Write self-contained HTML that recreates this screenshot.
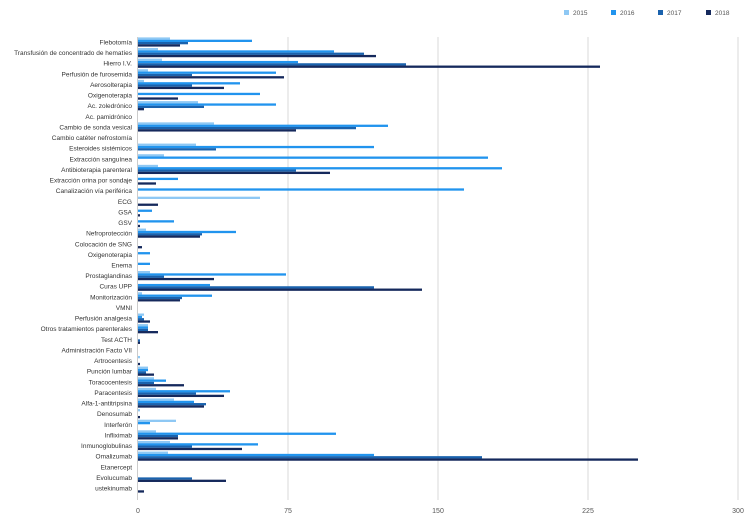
<!DOCTYPE html>
<html><head><meta charset="utf-8"><style>
body{margin:0;background:#fff;}
svg{display:block;font-family:"Liberation Sans",sans-serif;}
</style></head><body>
<svg id="chart" width="750" height="527"></svg>
<script>
const categories=["Flebotomía","Transfusión de concentrado de hematíes","Hierro I.V.","Perfusión de furosemida","Aerosolterapia","Oxigenoterapia","Ac. zoledrónico","Ac. pamidrónico","Cambio de sonda vesical","Cambio catéter nefrostomía","Esteroides sistémicos","Extracción sanguínea","Antibioterapia parenteral","Extracción orina por sondaje","Canalización vía periférica","ECG","GSA","GSV","Nefroprotección","Colocación de SNG","Oxigenoterapia","Enema","Prostaglandinas","Curas UPP","Monitorización","VMNI","Perfusión analgesia","Otros tratamientos parenterales","Test ACTH","Administración Facto VII","Artrocentesis","Punción lumbar","Toracocentesis","Paracentesis","Alfa-1-antitripsina","Denosumab","Interferón","Infliximab","Inmunoglobulinas","Omalizumab","Etanercept","Evolucumab","ustekinumab"];
const s2015=[16,10,12,5,3,0,30,0,38,0,29,13,10,0,0,61,0,0,4,0,0,0,6,0,2,0,3,5,0,0,1,5,8,9,18,1,19,9,16,15,0,0,0];
const s2016=[57,98,80,69,51,61,69,0,125,0,118,175,182,20,163,0,7,18,49,0,6,6,74,36,37,0,2,5,0,0,0,5,14,46,28,0,6,99,60,118,0,0,0];
const s2017=[25,113,134,27,27,0,33,0,109,0,39,0,79,0,0,0,0,0,32,0,0,0,13,118,22,0,3,5,1,0,0,4,8,29,34,0,0,20,27,172,0,27,0];
const s2018=[21,119,231,73,43,20,3,0,79,0,0,0,96,9,0,10,1,1,31,2,0,0,38,142,21,0,6,10,1,0,1,8,23,43,33,1,0,20,52,250,0,44,3];
const seriesNames=["2015","2016","2017","2018"];
const ticks=[0,75,150,225,300];
const colors=["#8ec8f4","#2194ee","#1a62ad","#15295c"];
const svg=document.getElementById('chart');
const NS="http://www.w3.org/2000/svg";
const x0=138,x1=738,yTop=37,yBot=500,rowTop=37;
const pitch=(yBot-rowTop-10)/categories.length*1.0;
const xs=v=>x0+v*(x1-x0)/300;
function mk(t,a){const e=document.createElementNS(NS,t);for(const k in a)e.setAttribute(k,a[k]);svg.appendChild(e);return e;}
ticks.forEach((t,i)=>{
  if(i>0){const g=mk('line',{x1:xs(t),x2:xs(t),y1:yTop,y2:yBot,stroke:'#d8d8d8','stroke-width':1});
  
  }
  const l=mk('text',{x:xs(t),y:513,'font-size':7,'text-anchor':'middle',fill:'#555'});l.textContent=t;
  
  
});
const ax=mk('line',{x1:x0-0.5,x2:x0-0.5,y1:yTop,y2:yBot,stroke:'#ccc','stroke-width':1});


const data=[s2015,s2016,s2017,s2018];
const step=(488-42)/(categories.length-1);
categories.forEach((c,i)=>{
  const cy=42+i*step;
  const t=mk('text',{x:132,y:cy+2.5,'font-size':6.5,'text-anchor':'end',fill:'#333'});t.textContent=c;
  
  
  data.forEach((s,j)=>{
    if(s[i]<=0)return;
    const r=mk('rect',{x:x0,y:cy-4.6+j*2.3,width:xs(s[i])-x0,height:2.3,fill:colors[j]});
    
    
  });
});
const lx=[564,611,658,706];
seriesNames.forEach((n,j)=>{
  const r=mk('rect',{x:lx[j],y:10,width:5,height:5,fill:colors[j]});
  
  
  const t=mk('text',{x:lx[j]+9,y:15,'font-size':6.5,fill:'#555'});t.textContent=n;
  
  
});
</script>
</body></html>
